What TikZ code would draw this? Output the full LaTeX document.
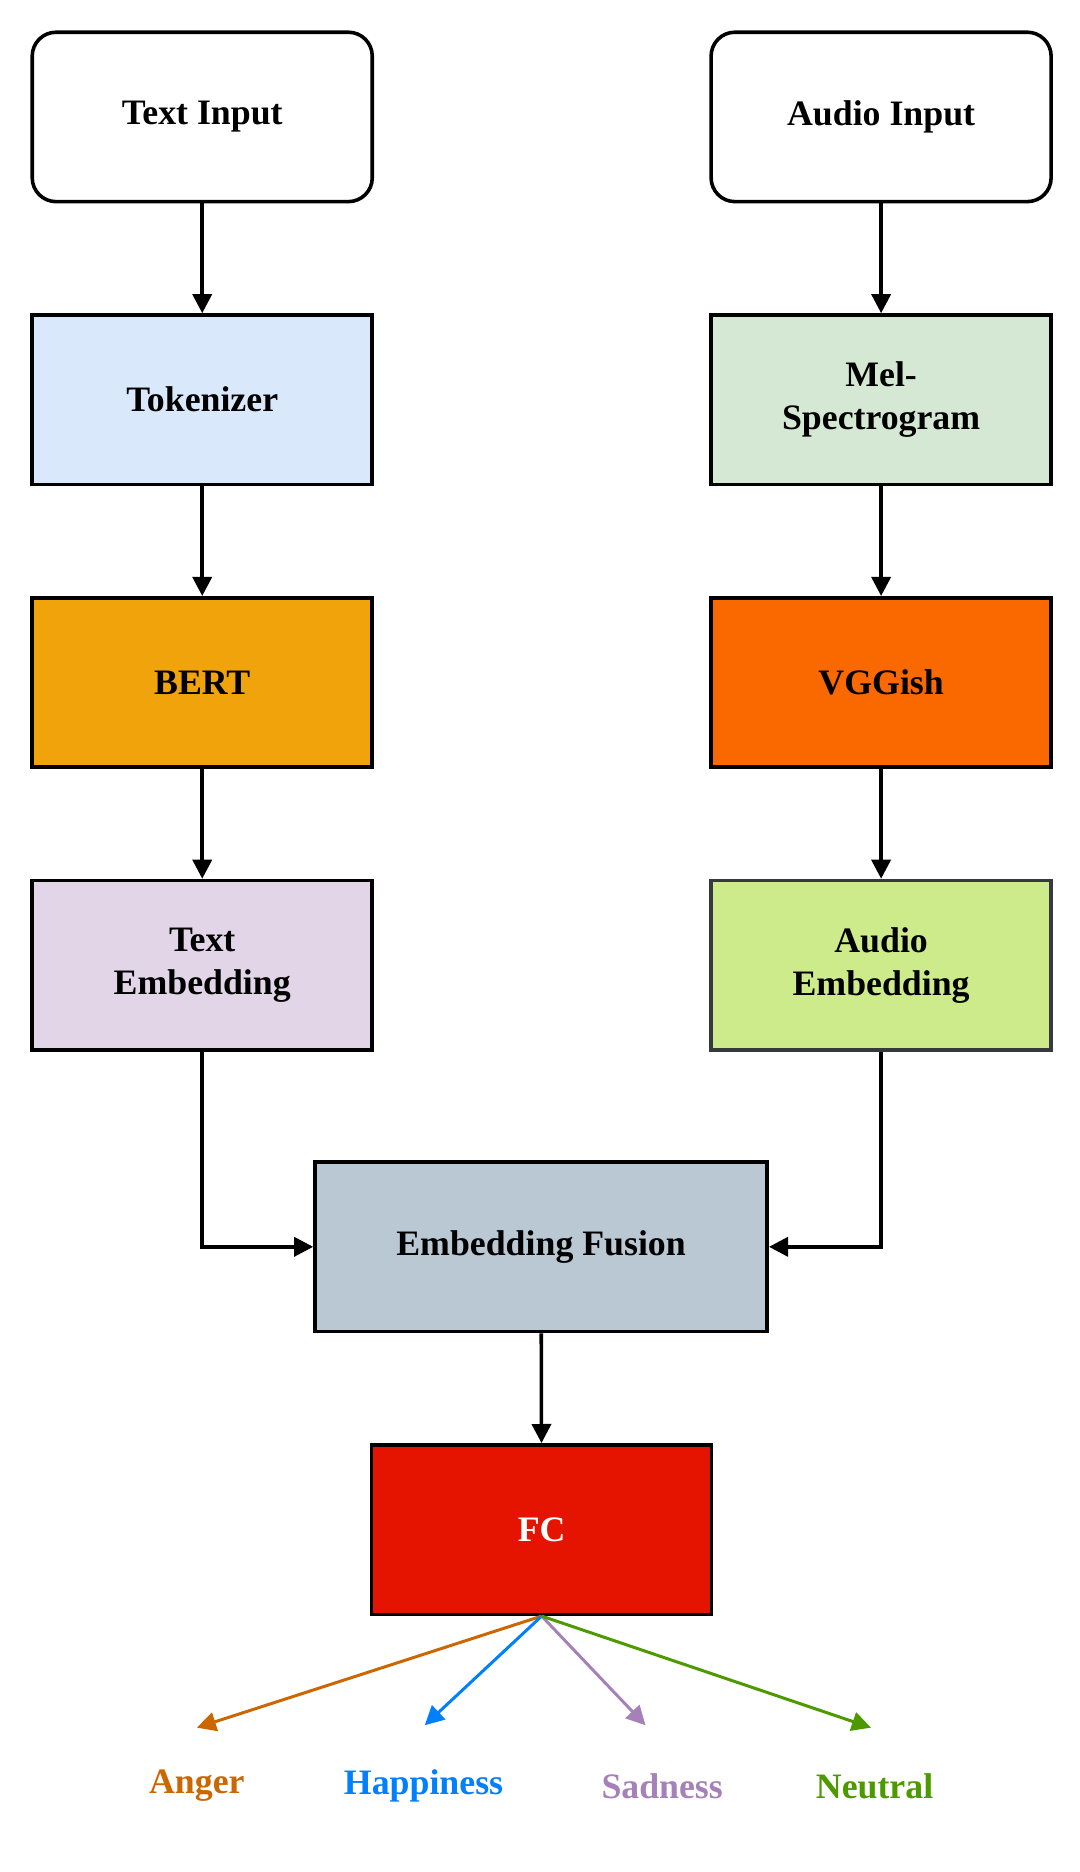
\documentclass[tikz,border=0pt]{standalone}
\usepackage{fontspec}
\setmainfont{Liberation Serif}
\usetikzlibrary{arrows.meta,positioning}

\definecolor{tokfill}{HTML}{DAE8FC}
\definecolor{bertfill}{HTML}{F0A30A}
\definecolor{temfill}{HTML}{E1D5E7}
\definecolor{melfill}{HTML}{D5E8D4}
\definecolor{vggfill}{HTML}{FA6800}
\definecolor{aemfill}{HTML}{CDEB8B}
\definecolor{aemdraw}{HTML}{36393D}
\definecolor{fusfill}{HTML}{BAC8D3}
\definecolor{fcfill}{HTML}{E51400}
\definecolor{angercol}{HTML}{CC6600}
\definecolor{happycol}{HTML}{007FFF}
\definecolor{sadcol}{HTML}{A680B8}
\definecolor{neutcol}{HTML}{4D9900}

\tikzset{
  block/.style={draw, line width=3pt, minimum width=285pt, minimum height=142pt,
    align=center, font=\fontsize{30}{36}\selectfont\bfseries},
  flow/.style={line width=3pt, -{Triangle[length=16pt,width=16pt]}},
  outlab/.style={font=\fontsize{30}{36}\selectfont\bfseries}
}

\begin{document}
\begin{tikzpicture}[x=1pt,y=-1pt]
  \useasboundingbox (0,0) rectangle (905,1569);
  % text branch
  \node[block, rounded corners=20pt] (tin) at (169.5,98) {Text Input};
  \node[block, fill=tokfill] (tok) at (169.5,335) {Tokenizer};
  \node[block, fill=bertfill] (bert) at (169.5,572) {BERT};
  \node[block, fill=temfill] (tem) at (169.5,809) {Text\\Embedding};
  % audio branch
  \node[block, rounded corners=20pt] (ain) at (738.5,98) {Audio Input};
  \node[block, fill=melfill] (mel) at (738.5,335) {Mel-\\Spectrogram};
  \node[block, fill=vggfill] (vgg) at (738.5,572) {VGGish};
  \node[block, fill=aemfill, draw=aemdraw] (aem) at (738.5,809) {Audio\\Embedding};
  % fusion and head
  \node[block, fill=fusfill, minimum width=379pt] (fus) at (453.5,1045) {Embedding Fusion};
  \node[block, fill=fcfill, text=white] (fc) at (454,1282) {FC};
  \draw[flow] (tin) -- (tok);
  \draw[flow] (tok) -- (bert);
  \draw[flow] (bert) -- (tem);
  \draw[flow] (ain) -- (mel);
  \draw[flow] (mel) -- (vgg);
  \draw[flow] (vgg) -- (aem);
  \draw[flow] (tem.south) |- (fus.west);
  \draw[flow] (aem.south) |- (fus.east);
  \draw[flow] (fus) -- (fc);
  % outputs
  \node[outlab, text=angercol] (anger) at (165,1497) {Anger};
  \node[outlab, text=happycol] (happy) at (355,1497) {Happiness};
  \node[outlab, text=sadcol] (sad) at (555,1497) {Sadness};
  \node[outlab, text=neutcol] (neut) at (733,1497) {Neutral};
  \coordinate (ea) at (165,1448);
  \coordinate (eh) at (356,1446);
  \coordinate (es) at (541,1446);
  \coordinate (en) at (730,1448);
  \draw[flow, draw=angercol, line width=2.5pt] (fc.south) -- (ea);
  \draw[flow, draw=happycol, line width=2.5pt] (fc.south) -- (eh);
  \draw[flow, draw=sadcol, line width=2.5pt] (fc.south) -- (es);
  \draw[flow, draw=neutcol, line width=2.5pt] (fc.south) -- (en);
\end{tikzpicture}
\end{document}
